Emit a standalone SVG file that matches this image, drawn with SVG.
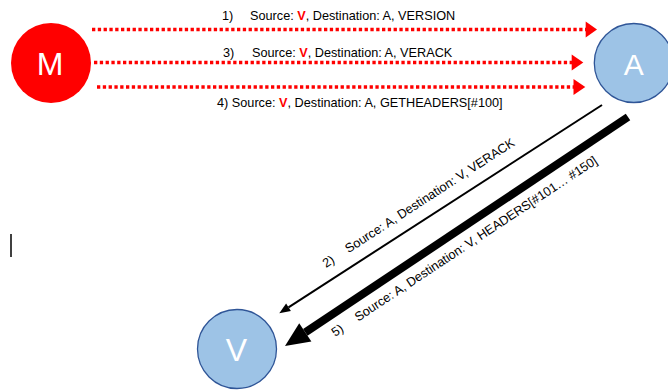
<svg xmlns="http://www.w3.org/2000/svg" width="668" height="390" viewBox="0 0 668 390">
<style>
.lbl{font-family:"Liberation Sans",Arial,sans-serif;font-size:12.7px;fill:#000}
.red{fill:#ff0000;font-weight:bold}
.dot{stroke:#ff0000;stroke-width:3.5;stroke-dasharray:3.3 2.5;fill:none}
.head{fill:#ff0000}
.nodeTxt{font-family:"Liberation Sans",Arial,sans-serif;fill:#fff;text-anchor:middle}
.blue{fill:#9dc3e6;stroke:#2f5597;stroke-width:1.3}
</style>
<rect width="668" height="390" fill="#fff"/>
<g id="node-M">
<circle cx="51" cy="63" r="40" fill="#ff0000"/>
<text class="nodeTxt" x="50" y="75" font-size="32">M</text>
</g>
<g id="node-A">
<circle class="blue" cx="633.8" cy="63" r="39.5"/>
<text class="nodeTxt" x="633.8" y="75" font-size="30">A</text>
</g>
<g id="node-V">
<circle class="blue" cx="237" cy="349" r="39.5"/>
<text class="nodeTxt" x="236.5" y="360.5" font-size="32">V</text>
</g>
<g id="connectors">
<line class="dot" x1="92" y1="29.5" x2="586" y2="29.5"/>
<polygon class="head" points="585.7,21.5 597,29.5 585.7,37.5"/>
<line class="dot" x1="94" y1="62.5" x2="572" y2="62.5"/>
<polygon class="head" points="571.7,54.5 583.3,62.5 571.7,70.5"/>
<line class="dot" x1="97" y1="87" x2="574" y2="87"/>
<polygon class="head" points="573.5,79 585.3,87 573.5,95"/>
<line x1="602" y1="105" x2="288.5" y2="307.3" stroke="#000" stroke-width="2"/>
<polygon points="279.3,313.3 290.9,311.1 286.1,303.5" fill="#000"/>
<line x1="628" y1="117" x2="305.3" y2="332.4" stroke="#000" stroke-width="8"/>
<polygon points="285,346 311.4,341.5 299.2,323.3" fill="#000"/>
</g>
<g id="labels">
<text class="lbl" y="20"><tspan x="222">1)</tspan><tspan x="250">Source: </tspan><tspan class="red">V</tspan><tspan>, Destination: A, VERSION</tspan></text>
<text class="lbl" y="56.5"><tspan x="223">3)</tspan><tspan x="252">Source: </tspan><tspan class="red">V</tspan><tspan>, Destination: A, VERACK</tspan></text>
<text class="lbl" x="217" y="107">4) Source: <tspan class="red">V</tspan>, Destination: A, GETHEADERS[#100]</text>
<text class="lbl" transform="translate(326,268) rotate(-33)"><tspan x="0">2)</tspan><tspan dx="15.7">Source: A, Destination: V, VERACK</tspan></text>
<text class="lbl" transform="translate(335,337) rotate(-33.5)"><tspan x="0">5)</tspan><tspan dx="16.5">Source: A, Destination: V, HEADERS[#101… #150]</tspan></text>
</g>
<rect x="10" y="234" width="2" height="23" fill="#404040"/>
</svg>
